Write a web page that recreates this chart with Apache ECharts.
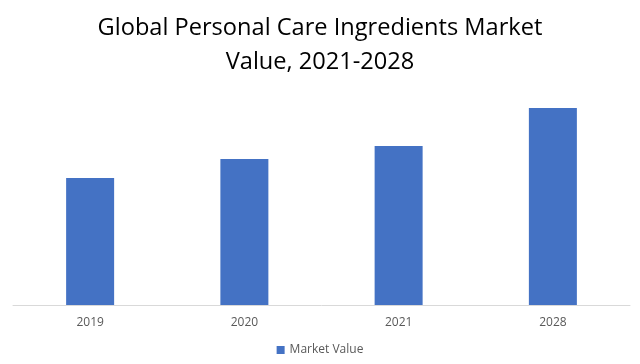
<!DOCTYPE html>
<html><head><meta charset="utf-8">
<script src="https://cdn.jsdelivr.net/npm/echarts@6/dist/echarts.min.js"></script>
<style>html,body{margin:0;padding:0;background:#fff}#c{width:640px;height:364px}</style>
</head><body><div id="c"></div>
<script>
const categories = ['2019', '2020', '2021', '2028'];
const marketValue = [12.7, 14.6, 15.9, 19.7];
const seriesName = 'Market Value';
const titleText = 'Global Personal Care Ingredients Market\nValue, 2021-2028';

const chart = echarts.init(document.getElementById('c'), null, {renderer: 'canvas'});
chart.setOption({
  animation: false,
  title: {
    text: titleText, left: 'center', top: 6,
    textStyle: {fontFamily: 'Open Sans', fontWeight: 'normal', fontSize: 23.6, color: '#000', lineHeight: 34}
  },
  legend: {
    bottom: 3, left: 'center', itemWidth: 8, itemHeight: 8, icon: 'rect',
    textStyle: {fontFamily: 'Open Sans', fontSize: 12, color: '#595959'},
    data: [seriesName]
  },
  grid: {left: 13, right: 10, top: 55, bottom: 59},
  xAxis: {
    type: 'category', data: categories,
    axisLine: {lineStyle: {color: '#d9d9d9', width: 1}},
    axisTick: {show: false},
    axisLabel: {fontFamily: 'Open Sans', fontSize: 12, color: '#595959', margin: 12}
  },
  yAxis: {type: 'value', min: 0, max: 25, show: false, splitLine: {show: false}},
  series: [{
    name: seriesName, type: 'bar', data: marketValue, barWidth: 48,
    itemStyle: {color: '#4472C4'}
  }]
});
</script></body></html>
